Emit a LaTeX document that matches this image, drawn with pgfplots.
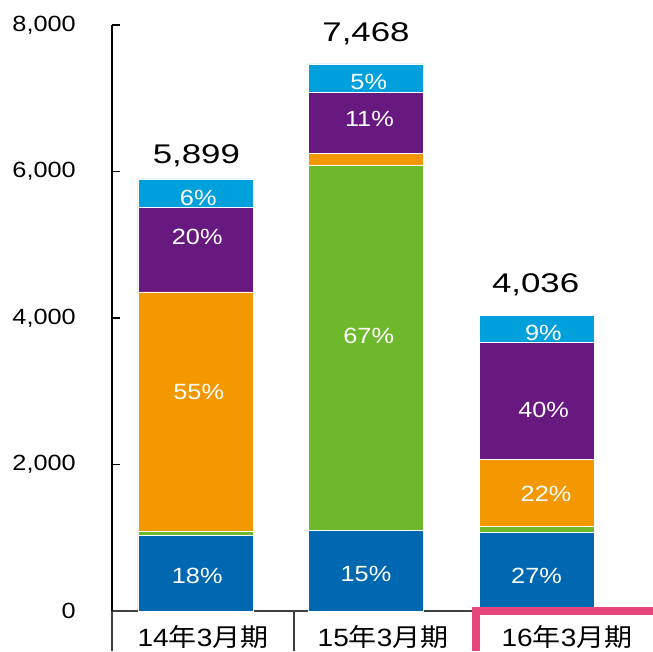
\documentclass[border=0pt]{standalone}
\usepackage{fontspec}
\setmainfont{Liberation Sans}[FakeStretch=1.15]
\newfontfamily\totfont{Liberation Sans}[FakeStretch=1.29]
\newfontfamily\catfont{Liberation Sans}[FakeStretch=1.12]
\newfontfamily\cjk{Noto Sans CJK JP}[FakeStretch=1.12]
\usepackage{pgfplots}
\pgfplotsset{compat=1.18}
\definecolor{cblue}{HTML}{0068B0}
\definecolor{cgreen}{HTML}{6EB92B}
\definecolor{corange}{HTML}{F39800}
\definecolor{cpurple}{HTML}{68197F}
\definecolor{ccyan}{HTML}{00A0DC}
\definecolor{cpink}{HTML}{E6467B}
\definecolor{darkline}{HTML}{404040}
\tikzset{
  pct/.style={anchor=base, text=white, inner sep=0pt, font=\fontsize{22}{26}\selectfont},
  tot/.style={anchor=base, text=black, inner sep=0pt, font=\totfont\fontsize{27}{32}\selectfont},
  cat/.style={anchor=base, text=black, inner sep=0pt, font=\fontsize{25}{30}\selectfont},
}
\begin{document}
\begin{tikzpicture}
\path[use as bounding box] (0,0) rectangle (653pt,651pt);
\begin{axis}[
  at={(112pt,40pt)}, anchor=south west,
  scale only axis, width=541pt, height=586pt,
  xmin=-0.4897, xmax=2.6833, ymin=0, ymax=8000,
  enlargelimits=false,
  axis x line=bottom, axis y line=left,
  x axis line style={-, draw=darkline, line width=2pt},
  y axis line style={-, draw=black, line width=2pt},
  xtick=\empty,
  ytick={0,2000,4000,6000,8000},
  scaled y ticks=false,
  tick align=inside, major tick length=8pt,
  ytick style={black, line width=1.5pt},
  yticklabel style={anchor=east, inner sep=0pt, xshift=-36pt,
    font=\fontsize{22}{26}\selectfont,
    /pgf/number format/1000 sep={,},
    /pgf/number format/assume math mode=true},
  ybar stacked, bar width=115pt,
  clip=false,
]
\addplot[fill=cblue, draw=white, line width=0.5pt] coordinates {(0,1030) (1,1096) (2,1069)};
\addplot[fill=cgreen, draw=white, line width=0.5pt] coordinates {(0,65) (1,4989) (2,91)};
\addplot[fill=corange, draw=white, line width=0.5pt] coordinates {(0,3260) (1,163) (2,915)};
\addplot[fill=cpurple, draw=white, line width=0.5pt] coordinates {(0,1160) (1,828) (2,1597)};
\addplot[fill=ccyan, draw=white, line width=0.5pt] coordinates {(0,384) (1,392) (2,364)};

\coordinate (a1) at (axis cs:0.016,5529);
\coordinate (a2) at (axis cs:0.010,4997);
\coordinate (a3) at (axis cs:0.019,2894);
\coordinate (a4) at (axis cs:0.010,369);
\coordinate (b1) at (axis cs:1.016,7113);
\coordinate (b2) at (axis cs:1.020,6612);
\coordinate (b3) at (axis cs:1.016,3654);
\coordinate (b4) at (axis cs:1.000,396);
\coordinate (c1) at (axis cs:2.040,3686);
\coordinate (c2) at (axis cs:2.042,2644);
\coordinate (c3) at (axis cs:2.056,1492);
\coordinate (c4) at (axis cs:2.000,382);

\node[tot] at (axis cs:0.005,6112) {5,899};
\node[tot] at (axis cs:1.000,7768) {7,468};
\node[tot] at (axis cs:1.995,4351) {4,036};

\node[cat] at (axis cs:0.044,-478) {{\catfont 14}{\cjk 年}{\catfont 3}{\cjk 月期}};
\node[cat] at (axis cs:1.100,-478) {{\catfont 15}{\cjk 年}{\catfont 3}{\cjk 月期}};
\node[cat] at (axis cs:2.179,-478) {{\catfont 16}{\cjk 年}{\catfont 3}{\cjk 月期}};

\coordinate (L0) at (axis cs:-0.4897,0);
\coordinate (L1) at (axis cs:0.5806,0);
\coordinate (P) at (axis cs:1.645,0);
\end{axis}
\node[pct] at (a1) {6\%};
\node[pct] at (a2) {20\%};
\node[pct] at (a3) {55\%};
\node[pct] at (a4) {18\%};
\node[pct] at (b1) {5\%};
\node[pct] at (b2) {11\%};
\node[pct] at (b3) {67\%};
\node[pct] at (b4) {15\%};
\node[pct] at (c1) {9\%};
\node[pct] at (c2) {40\%};
\node[pct] at (c3) {22\%};
\node[pct] at (c4) {27\%};
\draw[darkline, line width=2pt] (L0) -- (L0 |- 0,0);
\draw[darkline, line width=2pt] (L1) -- (L1 |- 0,0);
\draw[cpink, line width=8pt, line join=miter] (P |- 0,0) -- (P) -- (653pt,40pt);
\end{tikzpicture}
\end{document}
